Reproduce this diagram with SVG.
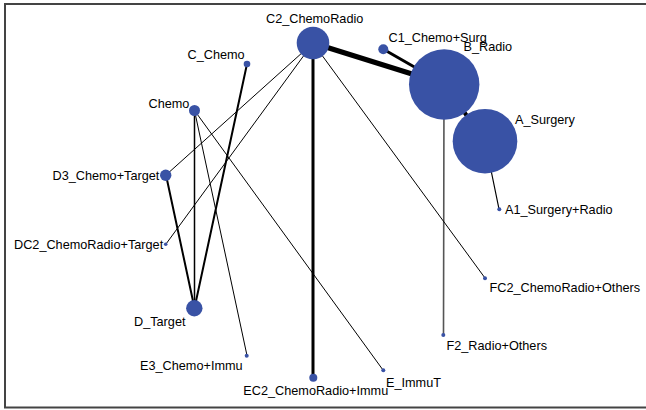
<svg xmlns="http://www.w3.org/2000/svg" width="646" height="410" viewBox="0 0 646 410">
<style>
.n{fill:#3952a5}
.e{stroke:#000;fill:none;stroke-linecap:round}
.t{font-family:"Liberation Sans",Arial,sans-serif;font-size:12.7px;fill:#000}
</style>
<rect x="0" y="0" width="646" height="410" fill="#fff"/>
<path d="M648 4 H5 V407.5 H648" fill="none" stroke="#444" stroke-width="2"/>
<g id="connectors">
<line class="e" x1="313" y1="43" x2="444" y2="84" stroke-width="5"/>
<line class="e" x1="383" y1="49" x2="444" y2="84" stroke-width="3"/>
<line class="e" x1="444" y1="84" x2="485" y2="141" stroke-width="4"/>
<line class="e" x1="485" y1="141" x2="499" y2="209" stroke-width="1.2"/>
<line class="e" x1="444" y1="84" x2="443.5" y2="335" stroke-width="1.6" style="stroke:#555"/>
<line class="e" x1="313" y1="43" x2="313" y2="377.5" stroke-width="3"/>
<line class="e" x1="313" y1="43" x2="485" y2="278" stroke-width="1"/>
<line class="e" x1="313" y1="43" x2="166" y2="175" stroke-width="1"/>
<line class="e" x1="313" y1="43" x2="166" y2="244" stroke-width="1"/>
<line class="e" x1="247" y1="64" x2="194.5" y2="308" stroke-width="2"/>
<line class="e" x1="194.5" y1="110.5" x2="194.5" y2="308" stroke-width="1.5"/>
<line class="e" x1="194.5" y1="110.5" x2="247" y2="355.5" stroke-width="1"/>
<line class="e" x1="194.5" y1="110.5" x2="383" y2="370" stroke-width="1"/>
<line class="e" x1="166" y1="175" x2="194.5" y2="308" stroke-width="2"/>
</g>
<g id="C2_ChemoRadio"><circle class="n" cx="313" cy="43" r="16.3"/><text class="t" x="266" y="23">C2_ChemoRadio</text></g>
<g id="C_Chemo"><circle class="n" cx="247" cy="64" r="3.3"/><text class="t" x="187.5" y="58.5">C_Chemo</text></g>
<g id="Chemo"><circle class="n" cx="194.5" cy="110.5" r="5.5"/><text class="t" x="148.5" y="107.5">Chemo</text></g>
<g id="C1_Chemo_Surg"><circle class="n" cx="383.3" cy="49.3" r="5"/><text class="t" x="388.5" y="42">C1_Chemo+Surg</text></g>
<g id="B_Radio"><circle class="n" cx="444.2" cy="84.5" r="35.2"/><text class="t" x="463.5" y="51">B_Radio</text></g>
<g id="A_Surgery"><circle class="n" cx="485" cy="141.2" r="32.3"/><text class="t" x="515" y="123.5">A_Surgery</text></g>
<g id="A1_Surgery_Radio"><circle class="n" cx="499.3" cy="209.3" r="2"/><text class="t" x="505" y="214">A1_Surgery+Radio</text></g>
<g id="D3_Chemo_Target"><circle class="n" cx="165.7" cy="175.3" r="5.7"/><text class="t" x="52.5" y="179.5">D3_Chemo+Target</text></g>
<g id="DC2_ChemoRadio_Target"><circle class="n" cx="165.7" cy="244.3" r="1.8"/><text class="t" x="14" y="249">DC2_ChemoRadio+Target</text></g>
<g id="D_Target"><circle class="n" cx="194.3" cy="308.3" r="8.2"/><text class="t" x="134" y="325.5">D_Target</text></g>
<g id="E3_Chemo_Immu"><circle class="n" cx="246.7" cy="355.7" r="2"/><text class="t" x="140" y="370">E3_Chemo+Immu</text></g>
<g id="EC2_ChemoRadio_Immu"><circle class="n" cx="313.3" cy="377.7" r="4"/><text class="t" x="243.3" y="395">EC2_ChemoRadio+Immu</text></g>
<g id="E_ImmuT"><circle class="n" cx="383.3" cy="370.3" r="2"/><text class="t" x="386" y="386.5">E_ImmuT</text></g>
<g id="F2_Radio_Others"><circle class="n" cx="443.3" cy="335" r="2"/><text class="t" x="446.5" y="350">F2_Radio+Others</text></g>
<g id="FC2_ChemoRadio_Others"><circle class="n" cx="485" cy="278.3" r="2"/><text class="t" x="489.5" y="291.5">FC2_ChemoRadio+Others</text></g>
</svg>
